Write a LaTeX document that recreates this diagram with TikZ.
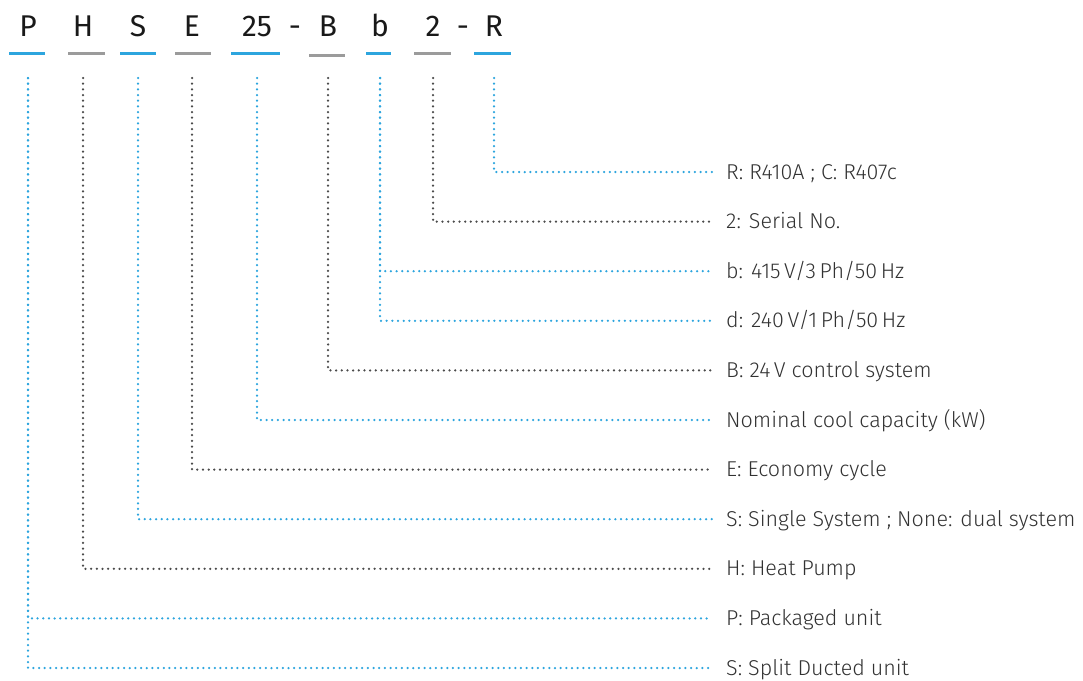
\documentclass[tikz,border=0pt]{standalone}
\usepackage{fontspec}
\setmainfont{Fira Sans}
\newfontfamily\lblfont{Fira Sans Light}
\usetikzlibrary{positioning}
\usepackage{xcolor}
\definecolor{cblue}{RGB}{45,165,222}
\definecolor{cdot}{RGB}{75,75,75}
\definecolor{cbar}{RGB}{155,155,155}
\definecolor{ctext}{RGB}{50,50,50}

\begin{document}
\begin{tikzpicture}[x=1pt,y=-1pt,
  code/.style={inner sep=0pt,text height=19pt,text depth=0pt,anchor=south,
               font=\fontsize{30}{30}\selectfont,text=black!90},
  lbl/.style={inner sep=0pt,text height=14pt,text depth=0pt,anchor=west,
              font=\lblfont\fontsize{21.5}{21.5}\selectfont,text=ctext},
  bbar/.style={cblue,line width=3pt},
  gbar/.style={cbar,line width=3pt},
  dots/.style={line width=2.5pt,line cap=round,dash pattern=on 0pt off 5.67pt},
  bdots/.style={dots,cblue},
  gdots/.style={dots,cdot}
]
\useasboundingbox (0,0) rectangle (1083,680);
% model code
\node[code] (cP)  at (28,37)  {P};
\node[code] (cH)  at (83,37)  {H};
\node[code] (cS)  at (138,37) {S};
\node[code] (cE)  at (192,37) {E};
\node[code] (c25) at (257,37) {25};
\node[code] (d1)  at (295,37) {-};
\node[code] (cB)  at (328,37) {B};
\node[code] (cb)  at (380,37) {b};
\node[code] (c2)  at (433,37) {2};
\node[code] (d2)  at (463,37) {-};
\node[code] (cR)  at (494,37) {R};
\draw[bbar] (9,53)--(45,53);    \draw[gbar] (68,53)--(105,53);
\draw[bbar] (120,53)--(156,53); \draw[gbar] (175,53)--(211,53);
\draw[bbar] (231,53)--(280,53); \draw[gbar] (309,55)--(345,55);
\draw[bbar] (366,53)--(391,53); \draw[gbar] (414,53)--(451,53);
\draw[bbar] (474,53)--(511,53);
% meanings
\node[lbl] (lR)  at (726,172) {R: R410A ; C: R407c};
\node[lbl] (l2)  at (726,221.6) {2: Serial No.};
\node[lbl] (lb)  at (726,271.2) {b: 415\,V/3\,Ph/50\,Hz};
\node[lbl] (ld)  at (726,320.8) {d: 240\,V/1\,Ph/50\,Hz};
\node[lbl] (lB)  at (726,370.4) {B: 24\,V control system};
\node[lbl] (l25) at (726,420) {Nominal cool capacity (kW)};
\node[lbl] (lE)  at (726,469.6) {E: Economy cycle};
\node[lbl] (lS)  at (726,519.2) {S: Single System ; None: dual system};
\node[lbl] (lH)  at (726,568.8) {H: Heat Pump};
\node[lbl] (lP)  at (726,618.4) {P: Packaged unit};
\node[lbl] (lSD) at (726,668) {S: Split Ducted unit};
% leaders
\draw[bdots] ([yshift=-41]cR.south)  |- ([xshift=-14]lR.west);
\draw[gdots] ([yshift=-41]c2.south)  |- ([xshift=-14]l2.west);
\draw[bdots] ([yshift=-41]cb.south)  |- ([xshift=-14]lb.west);
\draw[bdots] ([yshift=-41]cb.south)  |- ([xshift=-14]ld.west);
\draw[gdots] ([yshift=-41]cB.south)  |- ([xshift=-14]lB.west);
\draw[bdots] ([yshift=-41]c25.south) |- ([xshift=-14]l25.west);
\draw[gdots] ([yshift=-41]cE.south)  |- ([xshift=-14]lE.west);
\draw[bdots] ([yshift=-41]cS.south)  |- ([xshift=-14]lS.west);
\draw[gdots] ([yshift=-41]cH.south)  |- ([xshift=-14]lH.west);
\draw[bdots] ([yshift=-41]cP.south)  |- ([xshift=-14]lP.west);
\draw[bdots] ([yshift=-41]cP.south)  |- ([xshift=-14]lSD.west);
\end{tikzpicture}
\end{document}
